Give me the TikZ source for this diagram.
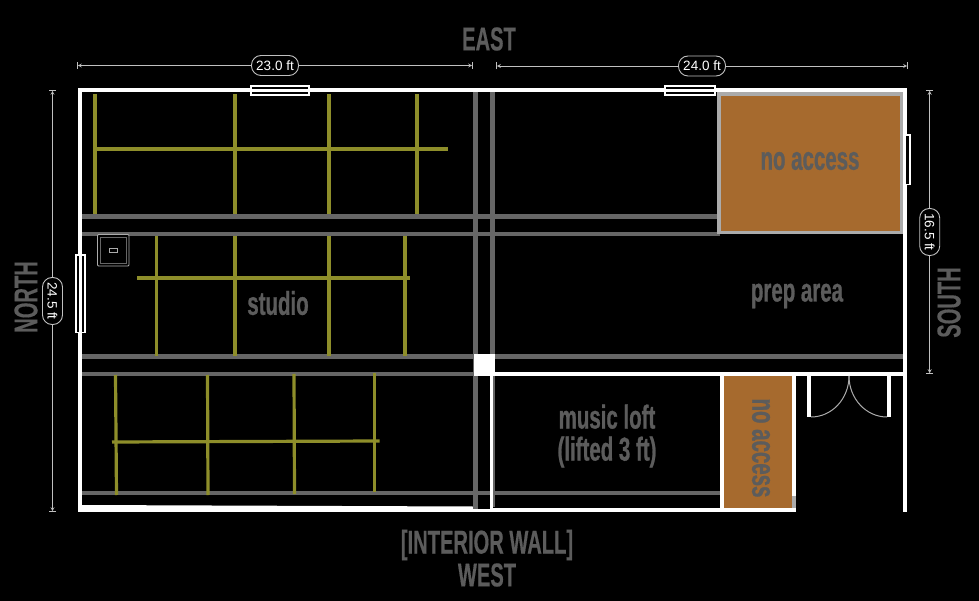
\documentclass[tikz,border=0pt]{standalone}
\usepackage{fontspec}
\usetikzlibrary{arrows.meta}
\setmainfont{Liberation Sans}
\newfontfamily\condfont[FakeStretch=0.62,FakeBold=0.8]{Liberation Sans}
\newfontfamily\bigfont[FakeStretch=0.61,FakeBold=0.4]{Liberation Sans}
\definecolor{beam}{HTML}{666666}
\definecolor{joist}{HTML}{8E8E2A}
\definecolor{lab}{HTML}{5C5C5C}
\definecolor{lockfill}{HTML}{A66A2E}
\definecolor{lockedge}{HTML}{ABABAB}
\definecolor{dimc}{HTML}{C0C0C0}
\tikzset{
  beamline/.style={draw=beam,line width=4.6pt},
  joistline/.style={draw=joist,line width=3.2pt},
  wallfill/.style={fill=white,draw=none},
  win/.style={draw=white,fill=black,line width=1.8pt},
  biglab/.style={text=lab,font=\bigfont\bfseries\fontsize{33}{33}\selectfont,inner sep=0pt,anchor=center},
  roomlab/.style={text=lab,font=\condfont\bfseries\fontsize{33}{32}\selectfont,inner sep=0pt,anchor=center,align=center},
  lock/.style={text=#1,font=\condfont\bfseries\fontsize{33}{32}\selectfont,inner sep=0pt,anchor=center},
  dimline/.style={draw=dimc,line width=0.8pt,{Bar[width=7pt,length=0.7pt].Stealth[length=4pt,width=4pt,open]}-{Stealth[length=4pt,width=4pt,open].Bar[width=7pt,length=0.7pt]}},
  pill/.style={draw=dimc,line width=0.9pt,fill=black,text=white,rounded corners=9.5pt,minimum width=47pt,minimum height=20pt,inner sep=0pt,font=\fontsize{13.5}{14}\selectfont},
}
\begin{document}
\begin{tikzpicture}[x=1pt,y=-1pt]
\useasboundingbox (0,0) rectangle (979,601);
\fill[black] (0,0) rectangle (979,601);
% beams
\foreach \y in {216.5,234,356.5,374,493}{\draw[beamline] (82,\y) -- (720,\y);}
\draw[beamline] (495,356.5) -- (903,356.5);
\draw[beamline] (475.7,92) -- (475.7,507);
\draw[beamline] (492.7,92) -- (492.7,354);
\draw[beamline] (492.7,376) -- (492.7,507);
% joists top
\foreach \x in {95,235,329,417}{\draw[joistline] (\x,94) -- (\x,214);}
\draw[joistline] (97,149) -- (448,149);
% joists middle
\foreach \x in {156.5,235,329,405}{\draw[joistline] (\x,236) -- (\x,356);}
\draw[joistline] (137,278) -- (410,278);
% joists bottom
\draw[joistline] (115.5,375) -- (116.5,495);
\draw[joistline] (207.5,375) -- (208,495);
\draw[joistline] (294,374) -- (294.5,494);
\draw[joistline] (374.5,373) -- (374.5,492);
\draw[joistline] (112,442) -- (379.5,441);
% stove
\draw[draw=lockedge,line width=0.9pt,fill=black,rounded corners=1pt] (97.5,234.5) rectangle (129,266);
\draw[draw=beam,line width=0.7pt] (100,237) rectangle (126.5,263.5);
\draw[draw=lockedge,line width=0.8pt] (109.2,248.3) rectangle (117.5,252.7);
% locked rooms
\fill[lockedge] (717.3,92) rectangle (903,234.5);
\fill[lockfill] (721,96) rectangle (899.5,231);
\fill[lockfill] (724,376) rectangle (792,507.7);
\fill[white] (720.3,376) rectangle (724,508);
\fill[white] (792,376) rectangle (796,496);
\fill[lockedge] (792,496) rectangle (796,508);
% walls
\fill[wallfill] (78,88) rectangle (907,92);
\fill[wallfill] (78,88) rectangle (82,512);
\fill[wallfill] (903,88) rectangle (907,512);
\fill[wallfill] (78,508) rectangle (796,512);
\fill[wallfill] (82,505) -- (473,506.5) -- (473,508) -- (82,508) -- cycle;
\fill[black] (473.5,506.5) rectangle (489.5,509);
\draw[beam,line width=4.6pt] (475.7,504) -- (475.7,508.5);
\fill[wallfill] (495,372) rectangle (903,375.7);
\fill[wallfill] (473.5,354) rectangle (495,376);
\fill[wallfill] (489.5,376) rectangle (493,508);
% door
\fill[wallfill] (807,375) rectangle (811,417);
\fill[wallfill] (887,375) rectangle (891,417);
\draw[lockedge,line width=1pt] (849,376) arc[start angle=0,end angle=-90,x radius=38pt,y radius=41pt];
\draw[lockedge,line width=1pt] (849,376) arc[start angle=180,end angle=270,x radius=38pt,y radius=41pt];
% windows
\draw[win] (250.7,85.7) rectangle (309.3,95);
\fill[white] (251,89.2) rectangle (309,91.6);
\draw[win] (664.7,85.7) rectangle (715.3,95);
\fill[white] (665,89.2) rectangle (715,91.6);
\draw[win] (75.7,254.7) rectangle (85,332.5);
\fill[white] (79.2,255) rectangle (81.6,332);
\draw[win] (903.7,134.7) rectangle (910,184.5);
\fill[white] (903,135) rectangle (906,184);
% dimensions
\coordinate (d1a) at (77,65.5); \coordinate (d1b) at (473,65.5);
\coordinate (d2a) at (496,66); \coordinate (d2b) at (908,66);
\coordinate (d3a) at (52.5,90); \coordinate (d3b) at (52.5,512);
\coordinate (d4a) at (929.7,90); \coordinate (d4b) at (929.7,374);
\draw[dimline] (d1a) -- node[pill] (p1) {23.0 ft} (d1b);
\draw[dimline] (d2a) -- node[pill] (p2) {24.0 ft} (d2b);
\draw[dimline] (d3a) -- node[pill,rotate=-90] (p3) {24.5 ft} (d3b);
\draw[dimline] (d4a) -- node[pill,rotate=-90] (p4) {16.5 ft} (d4b);
% labels
\node[biglab] (east) at (489,39) {EAST};
\node[biglab,rotate=90] (north) at (26,297) {NORTH};
\node[biglab,rotate=90] (south) at (949,302.5) {SOUTH};
\node[biglab] (iw) at (487,545) {[INTERIOR WALL]};
\node[biglab] (west) at (487,575) {WEST};
\node[roomlab] (studio) at (278,303) {studio};
\node[roomlab] (prep) at (797,296) {prep area};
\node[roomlab] (loft) at (607,436) {music loft\\(lifted 3 ft)};
\node[lock=lab] (na1) at (810,161) {no access};
\node[lock=lab,rotate=-90] (na2) at (761,448) {no access};
\end{tikzpicture}
\end{document}
